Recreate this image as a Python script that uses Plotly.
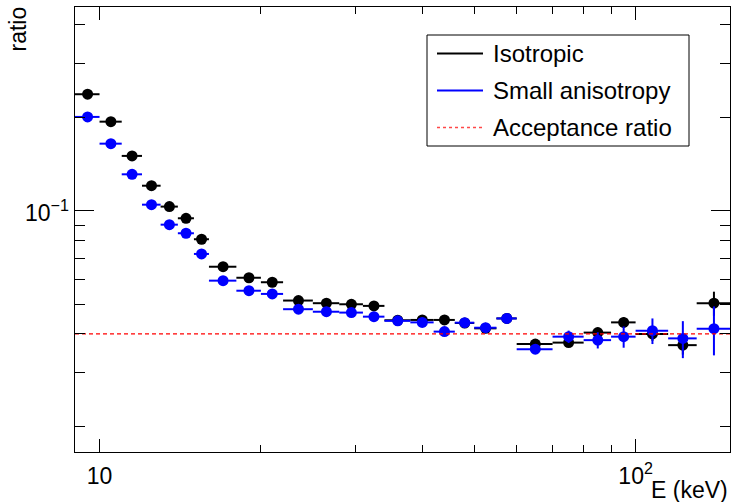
import numpy as np
import plotly.graph_objects as go

# Energy binning (keV): bin edges
bin_edges = [9, 10, 11, 12, 13, 14, 15, 16, 18, 20, 22, 25, 28, 31, 34, 38,
             42, 46, 50, 55, 60, 70, 80, 90, 100, 115, 130, 150]

# Ratio per bin, isotropic source
iso_ratio = [0.2386, 0.1945, 0.1507, 0.1207, 0.1033, 0.0947, 0.0810, 0.0660,
             0.0608, 0.0588, 0.0513, 0.0503, 0.0499, 0.0493, 0.0443, 0.0444,
             0.0444, 0.0434, 0.0417, 0.0449, 0.0371, 0.0375, 0.0404, 0.0436,
             0.0400, 0.0368, 0.0503]
iso_err = [0.004, 0.003, 0.0025, 0.002, 0.0018, 0.0016, 0.0014, 0.0010,
           0.0010, 0.0010, 0.0008, 0.0008, 0.0008, 0.0008, 0.0008, 0.0008,
           0.0009, 0.0009, 0.0009, 0.0010, 0.0010, 0.0012, 0.0015, 0.0017,
           0.0020, 0.0025, 0.0045]

# Ratio per bin, small anisotropy
aniso_ratio = [0.2015, 0.1651, 0.1314, 0.1048, 0.0903, 0.0847, 0.0726, 0.0595,
               0.0552, 0.0539, 0.0481, 0.0472, 0.0469, 0.0455, 0.0441, 0.0436,
               0.0407, 0.0435, 0.0419, 0.0449, 0.0357, 0.0392, 0.0382, 0.0392,
               0.0410, 0.0387, 0.0416]
aniso_err = [0.004, 0.003, 0.0025, 0.002, 0.0018, 0.0016, 0.0014, 0.0010,
             0.0010, 0.0010, 0.0008, 0.0008, 0.0008, 0.0008, 0.0008, 0.0008,
             0.0009, 0.0009, 0.0009, 0.0010, 0.0010, 0.0018, 0.0023, 0.0031,
             0.0039, 0.0053, 0.0075]

acceptance_ratio = 0.04

series_names = ["Isotropic", "Small anisotropy", "Acceptance ratio"]

x_ticks = [10, 100]
x_ticktext = ["10", "10<sup>2</sup>"]
y_ticks = [0.1]
y_ticktext = ["10<sup>\u22121</sup>"]

lo = np.array(bin_edges[:-1], dtype=float)
hi = np.array(bin_edges[1:], dtype=float)
centers = 0.5 * (lo + hi)

FONT = "Liberation Sans, Arial, Helvetica, sans-serif"
X_RANGE = [np.log10(9), np.log10(150)]
Y_RANGE = [np.log10(0.0166), np.log10(0.457)]

W, H = 732, 502
ML, MR, MT, MB = 75, 2, 7, 50
PW, PH = W - ML - MR, H - MT - MB


def px_x(px):
    """pixel column -> paper x"""
    return (px - ML) / PW


def px_y(py):
    """pixel row -> paper y"""
    return 1 - (py - MT) / PH


fig = go.Figure()


def add_series(values, errors, color, name):
    fig.add_trace(go.Scatter(
        x=centers, y=values, mode="markers", name=name,
        marker=dict(color=color, size=11, symbol="circle"),
        error_x=dict(type="data", symmetric=False,
                     array=hi - centers, arrayminus=centers - lo,
                     color=color, thickness=2, width=0),
        error_y=dict(type="data", array=errors, color=color,
                     thickness=2, width=0),
        showlegend=False, cliponaxis=True,
    ))


add_series(iso_ratio, iso_err, "black", series_names[0])
add_series(aniso_ratio, aniso_err, "#0000ff", series_names[1])

# acceptance ratio reference line
fig.add_trace(go.Scatter(
    x=[bin_edges[0], bin_edges[-1]], y=[acceptance_ratio] * 2, mode="lines",
    name=series_names[2],
    line=dict(color="red", width=1.2, dash="4px,3px"), showlegend=False,
))

axis_common = dict(
    type="log", showline=True, linecolor="black", linewidth=1,
    mirror="ticks", ticks="inside", tickcolor="black", tickwidth=1,
    showgrid=False, zeroline=False,
    tickfont=dict(family=FONT, size=23, color="black"),
)

minor_x = [20, 30, 40, 50, 60, 70, 80, 90]
minor_y = [0.02, 0.03, 0.04, 0.05, 0.06, 0.07, 0.08, 0.09, 0.2, 0.3, 0.4]

fig.update_xaxes(
    **axis_common, range=X_RANGE, tickmode="array",
    tickvals=x_ticks, ticktext=x_ticktext, ticklen=13,
    minor=dict(tickmode="array", tickvals=minor_x, ticks="inside",
               ticklen=7, tickcolor="black", tickwidth=1, showgrid=False),
    ticklabelstandoff=3,
)
fig.update_yaxes(
    **axis_common, range=Y_RANGE, tickmode="array",
    tickvals=y_ticks, showticklabels=False, ticklen=19,
    minor=dict(tickmode="array", tickvals=minor_y, ticks="inside",
               ticklen=10, tickcolor="black", tickwidth=1, showgrid=False),
)

# legend box with line samples
shapes = [dict(type="rect", xref="paper", yref="paper",
               x0=px_x(427), x1=px_x(689), y0=px_y(146), y1=px_y(35),
               line=dict(color="black", width=1), fillcolor="white",
               layer="above")]
legend_rows = [(53.5, "black", 2, "solid"),
               (90.5, "#0000ff", 2, "solid"),
               (127.5, "#ff4848", 1.3, "3px,3px")]
annotations = []
for (row_y, col, w, dash), name in zip(legend_rows, series_names):
    shapes.append(dict(type="line", xref="paper", yref="paper",
                       x0=px_x(437), x1=px_x(483),
                       y0=px_y(row_y), y1=px_y(row_y),
                       line=dict(color=col, width=w, dash=dash),
                       layer="above"))
    annotations.append(dict(text=name, xref="paper", yref="paper",
                            x=px_x(491), y=px_y(row_y),
                            xanchor="left", yanchor="middle",
                            showarrow=False,
                            font=dict(family=FONT, size=24, color="black")))

# y-axis decade label, placed just left of the frame
for v, txt in zip(y_ticks, y_ticktext):
    annotations.append(dict(text=txt, xref="paper", yref="y",
                            x=px_x(71), y=np.log10(v),
                            xanchor="right", yanchor="middle",
                            showarrow=False,
                            font=dict(family=FONT, size=23, color="black")))

annotations += [
    dict(text="E (keV)", xref="paper", yref="paper", x=px_x(730), y=px_y(475),
         xanchor="right", yanchor="top", showarrow=False,
         font=dict(family=FONT, size=23, color="black")),
    dict(text="ratio", xref="paper", yref="paper", x=px_x(17), y=px_y(5),
         xanchor="center", yanchor="top", textangle=-90, showarrow=False,
         font=dict(family=FONT, size=23, color="black")),
]

fig.update_layout(
    width=W, height=H,
    margin=dict(l=ML, r=MR, t=MT, b=MB),
    paper_bgcolor="white", plot_bgcolor="white",
    font=dict(family=FONT, color="black"),
    showlegend=False,
    shapes=shapes,
    annotations=annotations,
)

fig.write_html("out.html")
